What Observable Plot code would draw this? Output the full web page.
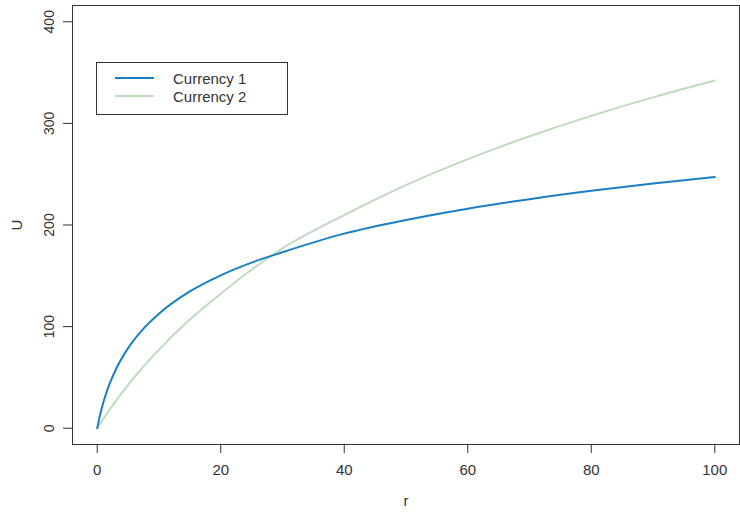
<!DOCTYPE html>
<html>
<head>
<meta charset="utf-8">
<script src="https://cdn.jsdelivr.net/npm/d3@7"></script>
<script src="https://cdn.jsdelivr.net/npm/@observablehq/plot@0.6"></script>
<style>
  html, body { margin: 0; padding: 0; background: #fff; }
  #wrap { position: relative; width: 740px; height: 518px; font-family: "Liberation Sans", Arial, sans-serif; }
  #legend { position: absolute; left: 96px; top: 62px; width: 192px; height: 53px; border: 1px solid #333; background: #fff; box-sizing: border-box; }
  .item { position: absolute; left: 0; height: 18px; display: flex; align-items: center; font-size: 15px; color: #333; }
  .swatch { display: inline-block; width: 39px; height: 0; margin-left: 18px; margin-right: 19px; }
</style>
</head>
<body>
<div id="wrap"></div>
<script>
// Data
const r = [0, 0.5, 1, 2, 3, 5, 7.5, 10, 15, 20, 25, 30, 40, 50, 60, 70, 80, 90, 100];
const currency1 = [0, 14, 25.5, 43.6, 57.6, 78.8, 98, 112.7, 134.6, 150.5, 163, 173.2, 191.5, 204.9, 216, 225.4, 233.6, 240.8, 247.3];
const currency2 = [0, 4.7, 9.3, 18.2, 26.7, 42.6, 60.8, 77.4, 106.9, 132.4, 156, 177, 209.8, 239.3, 264.8, 287.3, 307.4, 325.6, 342.2];
const seriesNames = ["Currency 1", "Currency 2"];
const seriesColors = ["#1a7fc3", "#bcdcbc"];
const xTicks = [0, 20, 40, 60, 80, 100];
const yTicks = [0, 100, 200, 300, 400];
const xLabel = "r";
const yLabel = "U";

const rows = [];
r.forEach((v, i) => {
  rows.push({r: v, U: currency1[i], s: seriesNames[0]});
});
r.forEach((v, i) => {
  rows.push({r: v, U: currency2[i], s: seriesNames[1]});
});

const chart = Plot.plot({
  width: 740,
  height: 518,
  marginLeft: 72,
  marginRight: 1,
  marginTop: 5,
  marginBottom: 74,
  style: {fontFamily: "'Liberation Sans', Arial, sans-serif", fontSize: "15px", color: "#333", background: "#fff"},
  x: {domain: [-4, 104]},
  y: {domain: [-16, 416]},
  color: {domain: seriesNames, range: seriesColors},
  marks: [
    Plot.frame({stroke: "#333"}),
    Plot.axisX({ticks: xTicks, tickSize: 9, tickPadding: 11, label: null, stroke: "#333", fill: "#333", fontSize: 15}),
    Plot.axisY({ticks: yTicks, tickSize: 9, tickFormat: () => "", label: null, stroke: "#333"}),
    Plot.text(yTicks, {y: d => d, text: d => String(d), frameAnchor: "left", textAnchor: "middle", lineAnchor: "middle", dx: -23, rotate: -90, fill: "#333", fontSize: 14}),
    Plot.text([xLabel], {text: d => d, frameAnchor: "bottom", textAnchor: "middle", lineAnchor: "middle", dy: 57, fill: "#333", fontSize: 15}),
    Plot.text([yLabel], {text: d => d, frameAnchor: "left", textAnchor: "middle", lineAnchor: "middle", dx: -55, rotate: -90, fill: "#333", fontSize: 15}),
    Plot.line(rows.filter(d => d.s === seriesNames[1]), {x: "r", y: "U", stroke: "s", strokeWidth: 2, curve: "monotone-x"}),
    Plot.line(rows.filter(d => d.s === seriesNames[0]), {x: "r", y: "U", stroke: "s", strokeWidth: 2, curve: "monotone-x"})
  ]
});

const wrap = document.getElementById("wrap");
wrap.appendChild(chart);

const legend = document.createElement("div");
legend.id = "legend";
seriesNames.forEach((name, i) => {
  const item = document.createElement("div");
  item.className = "item";
  item.style.top = (6 + i * 18) + "px";
  const sw = document.createElement("span");
  sw.className = "swatch";
  sw.style.borderTop = "2px solid " + seriesColors[i];
  const label = document.createElement("span");
  label.textContent = name;
  item.appendChild(sw);
  item.appendChild(label);
  legend.appendChild(item);
});
wrap.appendChild(legend);
</script>
</body>
</html>
